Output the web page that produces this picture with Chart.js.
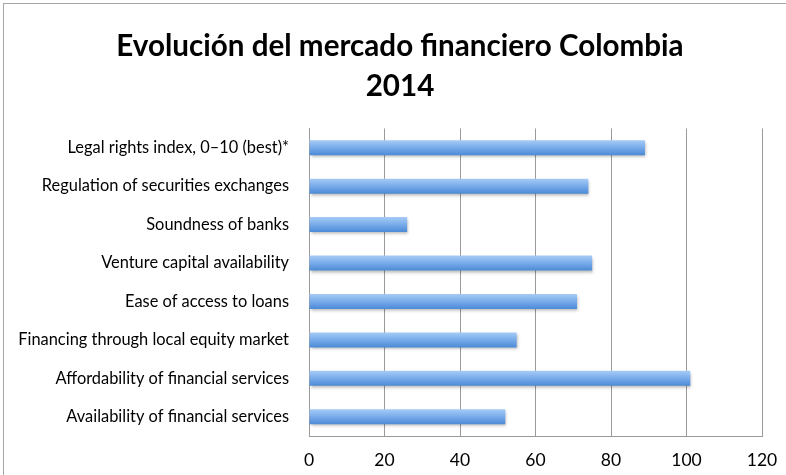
<!DOCTYPE html>
<html>
<head>
<meta charset="utf-8">
<script src="https://cdn.jsdelivr.net/npm/chart.js@4"></script>
<style>
  html, body { margin: 0; padding: 0; background: #fff; }
  #wrap { position: relative; width: 786px; height: 475px; }
  #frame { position: absolute; left: 3px; top: 3px; width: 800px; height: 500px; border: 1px solid #a6a6a6; box-sizing: border-box; }
  canvas { position: absolute; left: 0; top: 0; }
</style>
</head>
<body>
<div id="wrap">
  <div id="frame"></div>
  <canvas id="bars" width="786" height="475"></canvas>
</div>
<script>
const categories = [
  'Legal rights index, 0–10 (best)*',
  'Regulation of securities exchanges',
  'Soundness of banks',
  'Venture capital availability',
  'Ease of access to loans',
  'Financing through local equity market',
  'Affordability of financial services',
  'Availability of financial services'
];
const values = [89, 74, 26, 75, 71, 55, 101, 52];
const xTicks = [0, 20, 40, 60, 80, 100, 120];

// gives each bar a top-to-bottom gradient and a soft shadow
const barLook = {
  id: 'barLook',
  afterLayout(chart) {
    // title sits centred on the whole frame, not on the padded box
    if (chart.titleBlock) {
      chart.titleBlock.left += 19;
      chart.titleBlock.right += 19;
    }
  },
  beforeDatasetDraw(chart, args) {
    const ctx = chart.ctx;
    args.meta.data.forEach(bar => {
      const h = bar.height;
      const g = ctx.createLinearGradient(0, bar.y - h / 2, 0, bar.y + h / 2);
      g.addColorStop(0, '#a6cbf6');
      g.addColorStop(0.5, '#78abea');
      g.addColorStop(1, '#4c8ad6');
      // options can be shared between bars, so give each its own copy
      bar.options = Object.assign({}, bar.options, { backgroundColor: g });
    });
    ctx.save();
    ctx.shadowColor = 'rgba(0,0,0,0.3)';
    ctx.shadowBlur = 3;
    ctx.shadowOffsetX = 1;
    ctx.shadowOffsetY = 2;
  },
  afterDatasetDraw(chart) {
    chart.ctx.restore();
  }
};

new Chart(document.getElementById('bars'), {
  type: 'bar',
  data: {
    labels: categories,
    datasets: [{
      data: values,
      backgroundColor: '#78abea',
      barPercentage: 0.78,
      categoryPercentage: 0.5
    }]
  },
  plugins: [barLook],
  options: {
    indexAxis: 'y',
    responsive: false,
    animation: false,
    layout: { padding: { top: 6, right: 24, bottom: 0, left: 0 } },
    plugins: {
      legend: { display: false },
      tooltip: { enabled: false },
      title: {
        display: true,
        text: ['Evolución del mercado financiero Colombia', '2014'],
        color: '#000',
        font: { family: 'Lato', size: 29.6, weight: 'bold', lineHeight: 1.36 },
        padding: { top: 20, bottom: 22 }
      }
    },
    scales: {
      x: {
        min: 0,
        max: 120,
        afterBuildTicks(scale) { scale.ticks = xTicks.map(v => ({ value: v })); },
        afterFit(scale) {
          scale.height = 39;
          scale.paddingLeft = 0;
          scale.paddingRight = 0;
        },
        grid: { color: '#9a9a9a', drawTicks: false },
        border: { color: '#9a9a9a' },
        ticks: { color: '#000', padding: 14, font: { family: 'Lato', size: 17.5 } }
      },
      y: {
        afterFit(scale) { scale.width = 309; },
        grid: { display: false, drawTicks: false },
        border: { color: '#9a9a9a' },
        ticks: { color: '#000', padding: 20, font: { family: 'Lato', size: 16.4 } }
      }
    }
  }
});
</script>
</body>
</html>
